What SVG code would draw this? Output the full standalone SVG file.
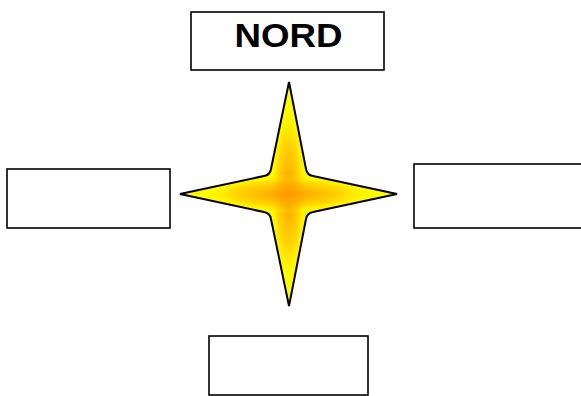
<svg xmlns="http://www.w3.org/2000/svg" width="581" height="396" viewBox="0 0 581 396">
<defs>
<radialGradient id="gv" gradientUnits="userSpaceOnUse" cx="0" cy="0" r="1" gradientTransform="translate(288.5 194) scale(20 95)">
<stop offset="0" stop-color="#FF9900" stop-opacity="1"/>
<stop offset="0.55" stop-color="#FFB000" stop-opacity="0.55"/>
<stop offset="1" stop-color="#FFFF00" stop-opacity="0"/>
</radialGradient>
<radialGradient id="gh" gradientUnits="userSpaceOnUse" cx="0" cy="0" r="1" gradientTransform="translate(288.5 194) scale(95 20)">
<stop offset="0" stop-color="#FF9900" stop-opacity="1"/>
<stop offset="0.55" stop-color="#FFB000" stop-opacity="0.55"/>
<stop offset="1" stop-color="#FFFF00" stop-opacity="0"/>
</radialGradient>
<path id="starShape" d="M289,82 L271,169 Q270,175 264,176 L180,194 L264,212 Q270,213 271,219 L289,306 L306,219 Q307,213 313,212 L397,194 L313,176 Q307,175 306,169 Z"/>
<clipPath id="starClip"><use href="#starShape"/></clipPath>
<style>
.box{fill:#FFFFFF;stroke:#000000;stroke-width:1.6}
.label{font-family:"Liberation Sans",Arial,sans-serif;font-weight:bold;font-size:34px;fill:#000000}
</style>
</defs>
<rect width="581" height="396" fill="#FFFFFF"/>
<g id="connectors"></g>
<g id="star">
<use href="#starShape" fill="#FFFF00"/>
<g clip-path="url(#starClip)">
<rect x="260" y="80" width="58" height="230" fill="url(#gv)"/>
<rect x="178" y="170" width="222" height="48" fill="url(#gh)"/>
</g>
<use href="#starShape" fill="none" stroke="#000000" stroke-width="2"/>
</g>
<g id="nord">
<rect class="box" x="191" y="12" width="193" height="58"/>
<text class="label" x="288.5" y="47" text-anchor="middle" textLength="108" lengthAdjust="spacingAndGlyphs">NORD</text>
</g>
<g id="west">
<rect class="box" x="7" y="169" width="163" height="59"/>
</g>
<g id="east">
<rect class="box" x="414" y="164" width="170" height="64"/>
</g>
<g id="south">
<rect class="box" x="209" y="336" width="159" height="59"/>
</g>
</svg>
